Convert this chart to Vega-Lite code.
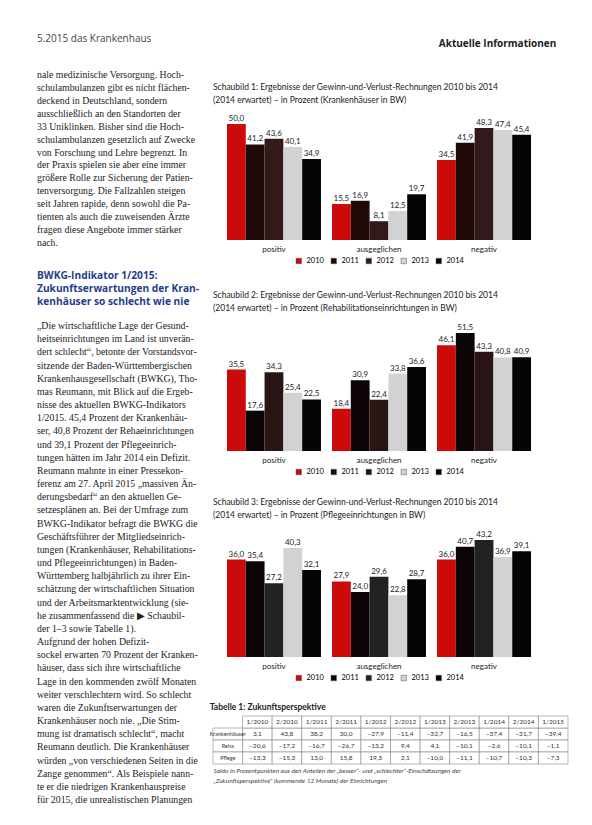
{
  "$schema": "https://vega.github.io/schema/vega-lite/v6.json",
  "background": "white",
  "padding": {"left": 37, "top": 34, "right": 0, "bottom": 0},
  "bounds": "flush",
  "spacing": 18,
  "config": {
    "view": {"stroke": null},
    "font": "Lato",
    "locale": {"number": {"decimal": ",", "thousands": ".", "grouping": [3], "currency": ["", " €"]}},
    "title": {"font": "Lato", "fontSize": 8.5, "fontWeight": "normal", "color": "#222", "anchor": "start", "lineHeight": 12.5},
    "text": {"font": "Lato"},
    "legend": {"layout": {"bottom": {"anchor": "middle"}}}
  },
  "datasets": {
    "bars": [
      {"chart": 1, "cat": "positiv", "year": "2010", "value": 50.0},
      {"chart": 1, "cat": "positiv", "year": "2011", "value": 41.2},
      {"chart": 1, "cat": "positiv", "year": "2012", "value": 43.6},
      {"chart": 1, "cat": "positiv", "year": "2013", "value": 40.1},
      {"chart": 1, "cat": "positiv", "year": "2014", "value": 34.9},
      {"chart": 1, "cat": "ausgeglichen", "year": "2010", "value": 15.5},
      {"chart": 1, "cat": "ausgeglichen", "year": "2011", "value": 16.9},
      {"chart": 1, "cat": "ausgeglichen", "year": "2012", "value": 8.1},
      {"chart": 1, "cat": "ausgeglichen", "year": "2013", "value": 12.5},
      {"chart": 1, "cat": "ausgeglichen", "year": "2014", "value": 19.7},
      {"chart": 1, "cat": "negativ", "year": "2010", "value": 34.5},
      {"chart": 1, "cat": "negativ", "year": "2011", "value": 41.9},
      {"chart": 1, "cat": "negativ", "year": "2012", "value": 48.3},
      {"chart": 1, "cat": "negativ", "year": "2013", "value": 47.4},
      {"chart": 1, "cat": "negativ", "year": "2014", "value": 45.4},
      {"chart": 2, "cat": "positiv", "year": "2010", "value": 35.5},
      {"chart": 2, "cat": "positiv", "year": "2011", "value": 17.6},
      {"chart": 2, "cat": "positiv", "year": "2012", "value": 34.3},
      {"chart": 2, "cat": "positiv", "year": "2013", "value": 25.4},
      {"chart": 2, "cat": "positiv", "year": "2014", "value": 22.5},
      {"chart": 2, "cat": "ausgeglichen", "year": "2010", "value": 18.4},
      {"chart": 2, "cat": "ausgeglichen", "year": "2011", "value": 30.9},
      {"chart": 2, "cat": "ausgeglichen", "year": "2012", "value": 22.4},
      {"chart": 2, "cat": "ausgeglichen", "year": "2013", "value": 33.8},
      {"chart": 2, "cat": "ausgeglichen", "year": "2014", "value": 36.6},
      {"chart": 2, "cat": "negativ", "year": "2010", "value": 46.1},
      {"chart": 2, "cat": "negativ", "year": "2011", "value": 51.5},
      {"chart": 2, "cat": "negativ", "year": "2012", "value": 43.3},
      {"chart": 2, "cat": "negativ", "year": "2013", "value": 40.8},
      {"chart": 2, "cat": "negativ", "year": "2014", "value": 40.9},
      {"chart": 3, "cat": "positiv", "year": "2010", "value": 36.0},
      {"chart": 3, "cat": "positiv", "year": "2011", "value": 35.4},
      {"chart": 3, "cat": "positiv", "year": "2012", "value": 27.2},
      {"chart": 3, "cat": "positiv", "year": "2013", "value": 40.3},
      {"chart": 3, "cat": "positiv", "year": "2014", "value": 32.1},
      {"chart": 3, "cat": "ausgeglichen", "year": "2010", "value": 27.9},
      {"chart": 3, "cat": "ausgeglichen", "year": "2011", "value": 24.0},
      {"chart": 3, "cat": "ausgeglichen", "year": "2012", "value": 29.6},
      {"chart": 3, "cat": "ausgeglichen", "year": "2013", "value": 22.8},
      {"chart": 3, "cat": "ausgeglichen", "year": "2014", "value": 28.7},
      {"chart": 3, "cat": "negativ", "year": "2010", "value": 36.0},
      {"chart": 3, "cat": "negativ", "year": "2011", "value": 40.7},
      {"chart": 3, "cat": "negativ", "year": "2012", "value": 43.2},
      {"chart": 3, "cat": "negativ", "year": "2013", "value": 36.9},
      {"chart": 3, "cat": "negativ", "year": "2014", "value": 39.1}
    ],
    "table": [
      {"row": "Krankenhäuser", "col": "1/2010", "value": 3.1},
      {"row": "Krankenhäuser", "col": "2/2010", "value": 43.8},
      {"row": "Krankenhäuser", "col": "1/2011", "value": 38.2},
      {"row": "Krankenhäuser", "col": "2/2011", "value": 30.0},
      {"row": "Krankenhäuser", "col": "1/2012", "value": -27.9},
      {"row": "Krankenhäuser", "col": "2/2012", "value": -11.4},
      {"row": "Krankenhäuser", "col": "1/2013", "value": -32.7},
      {"row": "Krankenhäuser", "col": "2/2013", "value": -16.5},
      {"row": "Krankenhäuser", "col": "1/2014", "value": -37.4},
      {"row": "Krankenhäuser", "col": "2/2014", "value": -31.7},
      {"row": "Krankenhäuser", "col": "1/2015", "value": -39.4},
      {"row": "Reha", "col": "1/2010", "value": -20.6},
      {"row": "Reha", "col": "2/2010", "value": -17.2},
      {"row": "Reha", "col": "1/2011", "value": -16.7},
      {"row": "Reha", "col": "2/2011", "value": -26.7},
      {"row": "Reha", "col": "1/2012", "value": -13.2},
      {"row": "Reha", "col": "2/2012", "value": 9.4},
      {"row": "Reha", "col": "1/2013", "value": 4.1},
      {"row": "Reha", "col": "2/2013", "value": -10.1},
      {"row": "Reha", "col": "1/2014", "value": -2.6},
      {"row": "Reha", "col": "2/2014", "value": -10.1},
      {"row": "Reha", "col": "1/2015", "value": -1.1},
      {"row": "Pflege", "col": "1/2010", "value": -13.3},
      {"row": "Pflege", "col": "2/2010", "value": -15.3},
      {"row": "Pflege", "col": "1/2011", "value": 13.0},
      {"row": "Pflege", "col": "2/2011", "value": 15.8},
      {"row": "Pflege", "col": "1/2012", "value": 19.3},
      {"row": "Pflege", "col": "2/2012", "value": 2.1},
      {"row": "Pflege", "col": "1/2013", "value": -10.0},
      {"row": "Pflege", "col": "2/2013", "value": -11.1},
      {"row": "Pflege", "col": "1/2014", "value": -10.7},
      {"row": "Pflege", "col": "2/2014", "value": -10.3},
      {"row": "Pflege", "col": "1/2015", "value": -7.3}
    ],
    "para1": [
      {"line": 1, "text": "nale medizinische Versorgung. Hoch-"},
      {"line": 2, "text": "schulambulanzen gibt es nicht flächen-"},
      {"line": 3, "text": "deckend in Deutschland, sondern"},
      {"line": 4, "text": "ausschließlich an den Standorten der"},
      {"line": 5, "text": "33 Uniklinken. Bisher sind die Hoch-"},
      {"line": 6, "text": "schulambulanzen gesetzlich auf Zwecke"},
      {"line": 7, "text": "von Forschung und Lehre begrenzt. In"},
      {"line": 8, "text": "der Praxis spielen sie aber eine immer"},
      {"line": 9, "text": "größere Rolle zur Sicherung der Patien-"},
      {"line": 10, "text": "tenversorgung. Die Fallzahlen steigen"},
      {"line": 11, "text": "seit Jahren rapide, denn sowohl die Pa-"},
      {"line": 12, "text": "tienten als auch die zuweisenden Ärzte"},
      {"line": 13, "text": "fragen diese Angebote immer stärker"},
      {"line": 14, "text": "nach."}
    ],
    "heading": [
      {"line": 1, "text": "BWKG-Indikator 1/2015:"},
      {"line": 2, "text": "Zukunftserwartungen der Kran-"},
      {"line": 3, "text": "kenhäuser so schlecht wie nie"}
    ],
    "body": [
      {"line": 1, "text": "„Die wirtschaftliche Lage der Gesund-"},
      {"line": 2, "text": "heitseinrichtungen im Land ist unverän-"},
      {"line": 3, "text": "dert schlecht“, betonte der Vorstandsvor-"},
      {"line": 4, "text": "sitzende der Baden-Württembergischen"},
      {"line": 5, "text": "Krankenhausgesellschaft (BWKG), Tho-"},
      {"line": 6, "text": "mas Reumann, mit Blick auf die Ergeb-"},
      {"line": 7, "text": "nisse des aktuellen BWKG-Indikators"},
      {"line": 8, "text": "1/2015. 45,4 Prozent der Krankenhäu-"},
      {"line": 9, "text": "ser, 40,8 Prozent der Rehaeinrichtungen"},
      {"line": 10, "text": "und 39,1 Prozent der Pflegeeinrich-"},
      {"line": 11, "text": "tungen hätten im Jahr 2014 ein Defizit."},
      {"line": 12, "text": "Reumann mahnte in einer Pressekon-"},
      {"line": 13, "text": "ferenz am 27. April 2015 „massiven Än-"},
      {"line": 14, "text": "derungsbedarf“ an den aktuellen Ge-"},
      {"line": 15, "text": "setzesplänen an. Bei der Umfrage zum"},
      {"line": 16, "text": "BWKG-Indikator befragt die BWKG die"},
      {"line": 17, "text": "Geschäftsführer der Mitgliedseinrich-"},
      {"line": 18, "text": "tungen (Krankenhäuser, Rehabilitations-"},
      {"line": 19, "text": "und Pflegeeinrichtungen) in Baden-"},
      {"line": 20, "text": "Württemberg halbjährlich zu ihrer Ein-"},
      {"line": 21, "text": "schätzung der wirtschaftlichen Situation"},
      {"line": 22, "text": "und der Arbeitsmarktentwicklung (sie-"},
      {"line": 23, "text": "he zusammenfassend die ▶ Schaubil-"},
      {"line": 24, "text": "der 1–3 sowie Tabelle 1)."},
      {"line": 25, "text": "\u2003\u2003Aufgrund der hohen Defizit-"},
      {"line": 26, "text": "sockel erwarten 70 Prozent der Kranken-"},
      {"line": 27, "text": "häuser, dass sich ihre wirtschaftliche"},
      {"line": 28, "text": "Lage in den kommenden zwölf Monaten"},
      {"line": 29, "text": "weiter verschlechtern wird. So schlecht"},
      {"line": 30, "text": "waren die Zukunftserwartungen der"},
      {"line": 31, "text": "Krankenhäuser noch nie. „Die Stim-"},
      {"line": 32, "text": "mung ist dramatisch schlecht“, macht"},
      {"line": 33, "text": "Reumann deutlich. Die Krankenhäuser"},
      {"line": 34, "text": "würden „von verschiedenen Seiten in die"},
      {"line": 35, "text": "Zange genommen“. Als Beispiele nann-"},
      {"line": 36, "text": "te er die niedrigen Krankenhauspreise"},
      {"line": 37, "text": "für 2015, die unrealistischen Planungen"}
    ]
  },
  "hconcat": [
    {
      "width": 158, "height": 725,
      "title": {"text": "5.2015   das Krankenhaus", "font": "Open Sans", "fontSize": 10, "color": "#444", "offset": 26},
      "resolve": {"scale": {"y": "independent"}},
      "layer": [
        {
          "data": {"name": "para1"},
          "mark": {"type": "text", "align": "left", "baseline": "middle", "font": "Liberation Serif", "fontSize": 9.8, "color": "#222"},
          "encoding": {
            "x": {"value": 0},
            "y": {"field": "line", "type": "quantitative", "scale": {"domain": [1, 57.1], "reverse": true, "nice": false, "zero": false}, "axis": null},
            "text": {"field": "text"}
          }
        },
        {
          "data": {"name": "heading"},
          "mark": {"type": "text", "align": "left", "baseline": "middle", "font": "Open Sans", "fontWeight": "bold", "fontSize": 10.2, "color": "#1f3d8a"},
          "encoding": {
            "x": {"value": 0},
            "y": {"field": "line", "type": "quantitative", "scale": {"domain": [-14.5, 41.27], "reverse": true, "nice": false, "zero": false}, "axis": null},
            "text": {"field": "text"}
          }
        },
        {
          "data": {"name": "body"},
          "mark": {"type": "text", "align": "left", "baseline": "middle", "font": "Liberation Serif", "fontSize": 9.8, "color": "#222"},
          "encoding": {
            "x": {"value": 0},
            "y": {"field": "line", "type": "quantitative", "scale": {"domain": [-18.06, 36.99], "reverse": true, "nice": false, "zero": false}, "axis": null},
            "text": {"field": "text"}
          }
        }
      ]
    },
    {
      "bounds": "flush",
      "spacing": 59,
      "resolve": {"scale": {"color": "independent"}},
      "title": {"text": "Aktuelle Informationen", "anchor": "end", "font": "Open Sans", "fontSize": 10, "fontWeight": "bold", "color": "#222", "offset": 26, "dx": -12},
      "vconcat": [
        {
          "width": 332, "height": 165,
          "title": {"text": ["Schaubild 1: Ergebnisse der Gewinn-und-Verlust-Rechnungen 2010 bis 2014", "(2014 erwartet) – in Prozent (Krankenhäuser in BW)"], "offset": -29},
          "data": {"name": "bars"},
          "transform": [{"filter": "datum.chart == 1"}],
          "encoding": {
            "x": {"field": "cat", "type": "nominal", "sort": ["positiv", "ausgeglichen", "negativ"], "scale": {"paddingInner": 0.105, "paddingOuter": 0.133}, "axis": {"title": null, "labelAngle": 0, "ticks": false, "domain": false, "labelFontSize": 8, "labelPadding": 5, "labelColor": "#222"}},
            "xOffset": {"field": "year", "type": "nominal", "scale": {"paddingInner": 0, "paddingOuter": 0}},
            "y": {"field": "value", "type": "quantitative", "scale": {"domain": [0, 71.1], "nice": false}, "axis": null}
          },
          "layer": [
            {
              "mark": {"type": "bar"},
              "encoding": {
                "color": {"field": "year", "type": "nominal", "scale": {"domain": ["2010", "2011", "2012", "2013", "2014"], "range": ["#cc0a0a", "#1f0909", "#33191a", "#d2d2d2", "#050505"]}, "legend": {"orient": "bottom", "direction": "horizontal", "title": null, "symbolType": "square", "symbolSize": 30, "labelFontSize": 7.5, "columnPadding": 6, "offset": 4, "symbolStrokeColor": "#555", "symbolStrokeWidth": 0.5}}
              }
            },
            {
              "mark": {"type": "text", "dy": -5, "fontSize": 8, "color": "#222"},
              "encoding": {"text": {"field": "value", "type": "quantitative", "format": ".1f"}}
            }
          ]
        },
        {
          "width": 332, "height": 152,
          "title": {"text": ["Schaubild 2: Ergebnisse der Gewinn-und-Verlust-Rechnungen 2010 bis 2014", "(2014 erwartet) – in Prozent (Rehabilitationseinrichtungen in BW)"], "offset": -13},
          "data": {"name": "bars"},
          "transform": [{"filter": "datum.chart == 2"}],
          "encoding": {
            "x": {"field": "cat", "type": "nominal", "sort": ["positiv", "ausgeglichen", "negativ"], "scale": {"paddingInner": 0.105, "paddingOuter": 0.133}, "axis": {"title": null, "labelAngle": 0, "ticks": false, "domain": false, "labelFontSize": 8, "labelPadding": 5, "labelColor": "#222"}},
            "xOffset": {"field": "year", "type": "nominal", "scale": {"paddingInner": 0, "paddingOuter": 0}},
            "y": {"field": "value", "type": "quantitative", "scale": {"domain": [0, 66.3], "nice": false}, "axis": null}
          },
          "layer": [
            {
              "mark": {"type": "bar"},
              "encoding": {
                "color": {"field": "year", "type": "nominal", "scale": {"domain": ["2010", "2011", "2012", "2013", "2014"], "range": ["#cc0a0a", "#0d0505", "#2a1515", "#d2d2d2", "#050505"]}, "legend": {"orient": "bottom", "direction": "horizontal", "title": null, "symbolType": "square", "symbolSize": 30, "labelFontSize": 7.5, "columnPadding": 6, "offset": 4, "symbolStrokeColor": "#555", "symbolStrokeWidth": 0.5}}
              }
            },
            {
              "mark": {"type": "text", "dy": -5, "fontSize": 8, "color": "#222"},
              "encoding": {"text": {"field": "value", "type": "quantitative", "format": ".1f"}}
            }
          ]
        },
        {
          "width": 332, "height": 147,
          "title": {"text": ["Schaubild 3: Ergebnisse der Gewinn-und-Verlust-Rechnungen 2010 bis 2014", "(2014 erwartet) – in Prozent (Pflegeeinrichtungen in BW)"], "offset": -9},
          "data": {"name": "bars"},
          "transform": [{"filter": "datum.chart == 3"}],
          "encoding": {
            "x": {"field": "cat", "type": "nominal", "sort": ["positiv", "ausgeglichen", "negativ"], "scale": {"paddingInner": 0.105, "paddingOuter": 0.133}, "axis": {"title": null, "labelAngle": 0, "ticks": false, "domain": false, "labelFontSize": 8, "labelPadding": 5, "labelColor": "#222"}},
            "xOffset": {"field": "year", "type": "nominal", "scale": {"paddingInner": 0, "paddingOuter": 0}},
            "y": {"field": "value", "type": "quantitative", "scale": {"domain": [0, 54.3], "nice": false}, "axis": null}
          },
          "layer": [
            {
              "mark": {"type": "bar"},
              "encoding": {
                "color": {"field": "year", "type": "nominal", "scale": {"domain": ["2010", "2011", "2012", "2013", "2014"], "range": ["#cc0a0a", "#0d0505", "#222222", "#d2d2d2", "#050505"]}, "legend": {"orient": "bottom", "direction": "horizontal", "title": null, "symbolType": "square", "symbolSize": 30, "labelFontSize": 7.5, "columnPadding": 6, "offset": 4, "symbolStrokeColor": "#555", "symbolStrokeWidth": 0.5}}
              }
            },
            {
              "mark": {"type": "text", "dy": -5, "fontSize": 8, "color": "#222"},
              "encoding": {"text": {"field": "value", "type": "quantitative", "format": ".1f"}}
            }
          ]
        },
        {
          "width": 355, "height": 48,
          "title": {"text": "Tabelle 1: Zukunftsperspektive", "fontWeight": "bold", "fontSize": 8.5, "offset": 4},
          "data": {"name": "table"},
          "encoding": {
            "x": {"field": "col", "type": "nominal", "scale": {"domain": ["", "1/2010", "2/2010", "1/2011", "2/2011", "1/2012", "2/2012", "1/2013", "2/2013", "1/2014", "2/2014", "1/2015"], "paddingInner": 0, "paddingOuter": 0}, "axis": {"orient": "bottom", "labels": false, "ticks": false, "domain": false, "title": ["Saldo in Prozentpunkten aus den Anteilen der „besser“- und „schlechter“-Einschätzungen der", "„Zukunftsperspektive“ (kommende 12 Monate) der Einrichtungen"], "titleFontSize": 6.5, "titleFontStyle": "italic", "titleFontWeight": "normal", "titleAnchor": "start", "titleAlign": "left", "titlePadding": 3, "titleColor": "#444", "titleLineHeight": 10}},
            "y": {"field": "row", "type": "nominal", "scale": {"domain": ["", "Krankenhäuser", "Reha", "Pflege"], "paddingInner": 0, "paddingOuter": 0}, "axis": null}
          },
          "layer": [
            {
              "mark": {"type": "rect", "fill": "white", "stroke": "#888", "strokeWidth": 0.6}
            },
            {
              "transform": [{"aggregate": [{"op": "count", "as": "n"}], "groupby": ["col"]}],
              "mark": {"type": "rect", "fill": "white", "stroke": "#888", "strokeWidth": 0.6},
              "encoding": {"y": {"datum": ""}}
            },
            {
              "transform": [{"aggregate": [{"op": "count", "as": "n"}], "groupby": ["row"]}],
              "mark": {"type": "rect", "fill": "white", "stroke": "#888", "strokeWidth": 0.6},
              "encoding": {"x": {"datum": ""}}
            },
            {
              "mark": {"type": "text", "fontSize": 6.5, "color": "#333"},
              "encoding": {"text": {"field": "value", "type": "quantitative", "format": ".1f"}}
            },
            {
              "transform": [{"aggregate": [{"op": "count", "as": "n"}], "groupby": ["col"]}],
              "mark": {"type": "text", "fontSize": 6.5, "color": "#333"},
              "encoding": {"y": {"datum": ""}, "text": {"field": "col"}}
            },
            {
              "transform": [{"aggregate": [{"op": "count", "as": "n"}], "groupby": ["row"]}],
              "mark": {"type": "text", "fontSize": 5.5, "color": "#333"},
              "encoding": {"x": {"datum": ""}, "text": {"field": "row"}}
            }
          ]
        }
      ]
    }
  ]
}
